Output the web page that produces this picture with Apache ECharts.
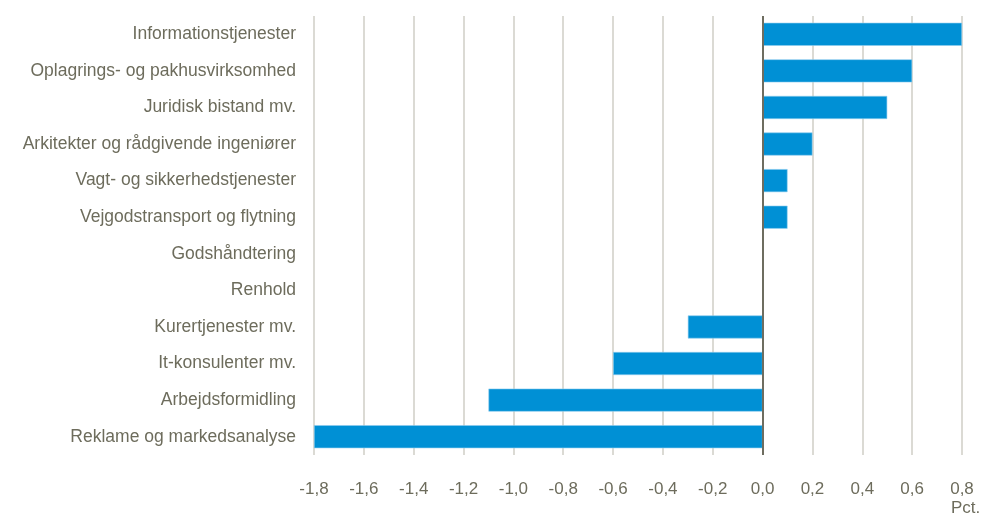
<!DOCTYPE html>
<html><head><meta charset="utf-8">
<script src="https://cdn.jsdelivr.net/npm/echarts@6/dist/echarts.min.js"></script>
<style>html,body{margin:0;padding:0;background:#fff}#c{width:982px;height:516px}</style>
</head><body><div id="c"></div>
<script>
const categories = ["Informationstjenester","Oplagrings- og pakhusvirksomhed","Juridisk bistand mv.","Arkitekter og rådgivende ingeniører","Vagt- og sikkerhedstjenester","Vejgodstransport og flytning","Godshåndtering","Renhold","Kurertjenester mv.","It-konsulenter mv.","Arbejdsformidling","Reklame og markedsanalyse"];
const values = [0.8,0.6,0.5,0.2,0.1,0.1,0,0,-0.3,-0.6,-1.1,-1.8];
const unitLabel = "Pct.";
const textColor = "#6d6c5c";
const chart = echarts.init(document.getElementById('c'));
chart.setOption({
  animation:false,
  grid:{left:314,right:20,top:16,bottom:61},
  xAxis:{type:'value',min:-1.8,max:0.8,interval:0.2,
    axisLine:{show:false},axisTick:{show:false},
    splitLine:{show:true,lineStyle:{color:'#cfcec6',width:1.5}},
    axisLabel:{color:textColor,fontFamily:'Liberation Sans, Arial',fontSize:17,margin:26,
      formatter:v=>(Math.round(v*10)/10).toFixed(1).replace('.',',')}},
  yAxis:{type:'category',data:categories,inverse:true,
    axisLine:{show:false},axisTick:{show:false},
    axisLabel:{color:textColor,fontFamily:'Liberation Sans, Arial',fontSize:17.5,margin:18}},
  series:[{type:'bar',data:values,barWidth:'63%',
    itemStyle:{color:'#0090d5',borderColor:'#8fcdee',borderWidth:0.6},
    markLine:{silent:true,symbol:'none',label:{show:false},
      lineStyle:{color:'#6e6d60',width:2,type:'solid'},data:[{xAxis:0}]}}],
  graphic:[{type:'text',left:951,top:500,style:{text:unitLabel,fill:textColor,font:'17px "Liberation Sans", Arial'}}]
});
</script></body></html>
